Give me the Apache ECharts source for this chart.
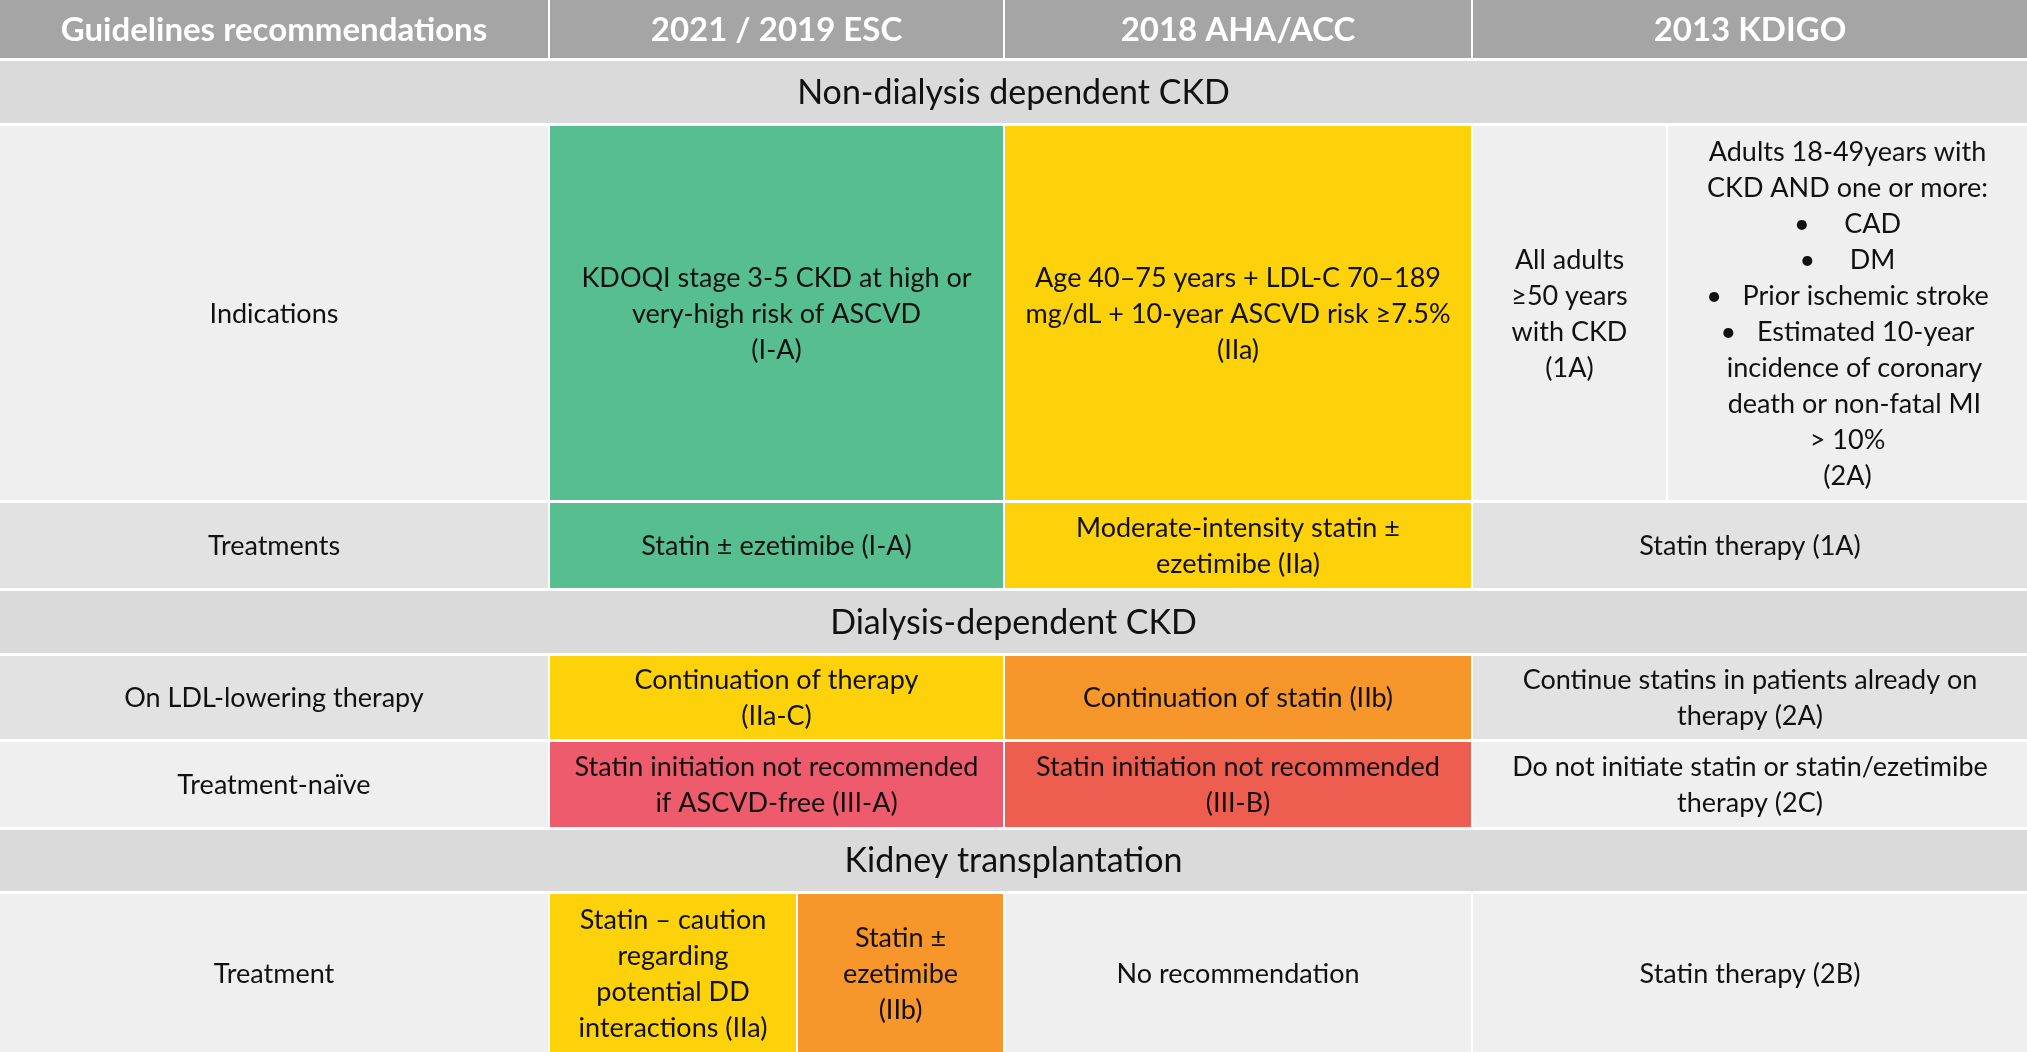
<!DOCTYPE html>
<html><head><meta charset="utf-8">
<script src="https://cdn.jsdelivr.net/npm/echarts@6/dist/echarts.min.js"></script>
<style>html,body{margin:0;padding:0;background:#fff}#c{width:2027px;height:1052px}</style>
</head><body><div id="c"></div>
<script>
// Table layout: column edges and row bands (in table units)
var colEdges = [0, 548, 796, 1003, 1471, 1666, 2027];
var rowBands = [[0,58],[61,123],[126,500],[503,588],[591,653],[656,739],[742,827],[830,891],[894,1052]];
var palette = {hdr:'#a5a5a5', sec:'#dadada', lite:'#efefef', dark:'#e2e2e2', green:'#57bf8f', yellow:'#fdd20b', orange:'#f6962b', pink:'#ee5b6c', red:'#ee5e50'};
// cells: [row, colStart, colEnd, colorKey, text, kind]
var headerCells = [
  [0,0,1,'hdr','Guidelines recommendations','h'],
  [0,1,3,'hdr','2021 / 2019 ESC','h'],
  [0,3,4,'hdr','2018 AHA/ACC','h'],
  [0,4,6,'hdr','2013 KDIGO','h']
];
var sectionCells = [
  [1,0,6,'sec','Non-dialysis dependent CKD','s'],
  [4,0,6,'sec','Dialysis-dependent CKD','s'],
  [7,0,6,'sec','Kidney transplantation','s']
];
var bodyCells = [
  [2,0,1,'lite','Indications'],
  [2,1,3,'green','KDOQI stage 3-5 CKD at high or\nvery-high risk of ASCVD\n(I-A)'],
  [2,3,4,'yellow','Age 40–75 years + LDL-C 70–189\nmg/dL + 10-year ASCVD risk ≥7.5%\n(IIa)'],
  [2,4,5,'lite','All adults\n≥50 years\nwith CKD\n(1A)'],
  [2,5,6,'lite','Adults 18-49years with\nCKD AND one or more:\n•     CAD\n•     DM\n•   Prior ischemic stroke\n•   Estimated 10-year\n  incidence of coronary\n  death or non-fatal MI\n> 10%\n(2A)'],
  [3,0,1,'dark','Treatments'],
  [3,1,3,'green','Statin ± ezetimibe (I-A)'],
  [3,3,4,'yellow','Moderate-intensity statin ±\nezetimibe (IIa)'],
  [3,4,6,'dark','Statin therapy (1A)'],
  [5,0,1,'dark','On LDL-lowering therapy'],
  [5,1,3,'yellow','Continuation of therapy\n(IIa-C)'],
  [5,3,4,'orange','Continuation of statin (IIb)'],
  [5,4,6,'dark','Continue statins in patients already on\ntherapy (2A)'],
  [6,0,1,'lite','Treatment-naïve'],
  [6,1,3,'pink','Statin initiation not recommended\nif ASCVD-free (III-A)'],
  [6,3,4,'red','Statin initiation not recommended\n(III-B)'],
  [6,4,6,'lite','Do not initiate statin or statin/ezetimibe\ntherapy (2C)'],
  [8,0,1,'lite','Treatment'],
  [8,1,2,'yellow','Statin – caution\nregarding\npotential DD\ninteractions (IIa)'],
  [8,2,3,'orange','Statin ±\nezetimibe\n(IIb)'],
  [8,3,4,'lite','No recommendation'],
  [8,4,6,'lite','Statin therapy (2B)']
];
var allCells = headerCells.concat(sectionCells).concat(bodyCells);
var data = allCells.map(function(c){
  var gapL = c[1] === 0 ? 0 : 2;
  return {value:[colEdges[c[1]] + gapL, colEdges[c[2]], rowBands[c[0]][0], rowBands[c[0]][1]], cell:c};
});
var font = 'Lato, "Open Sans", sans-serif';
var chart = echarts.init(document.getElementById('c'));
chart.setOption({
  animation:false,
  grid:{left:0,right:0,top:0,bottom:0},
  xAxis:{type:'value',min:0,max:2027,show:false},
  yAxis:{type:'value',min:0,max:1052,inverse:true,show:false},
  series:[{
    type:'custom',
    data:data,
    renderItem:function(params, api){
      var c = allCells[params.dataIndex];
      var p0 = api.coord([api.value(0), api.value(2)]);
      var p1 = api.coord([api.value(1), api.value(3)]);
      var kind = c[5];
      var size = kind==='h'?33:(kind==='s'?34:27);
      return {type:'group',children:[
        {type:'rect',shape:{x:p0[0],y:p0[1],width:p1[0]-p0[0],height:p1[1]-p0[1]},style:{fill:palette[c[3]]}},
        {type:'text',style:{x:(p0[0]+p1[0])/2,y:(p0[1]+p1[1])/2+1,text:c[4],align:'center',verticalAlign:'middle',
          font:(kind==='h'?'bold ':'')+size+'px '+font,lineHeight:kind?size*1.2:36,fill:kind==='h'?'#ffffff':'#111111'}}
      ]};
    }
  }]
});
</script></body></html>
